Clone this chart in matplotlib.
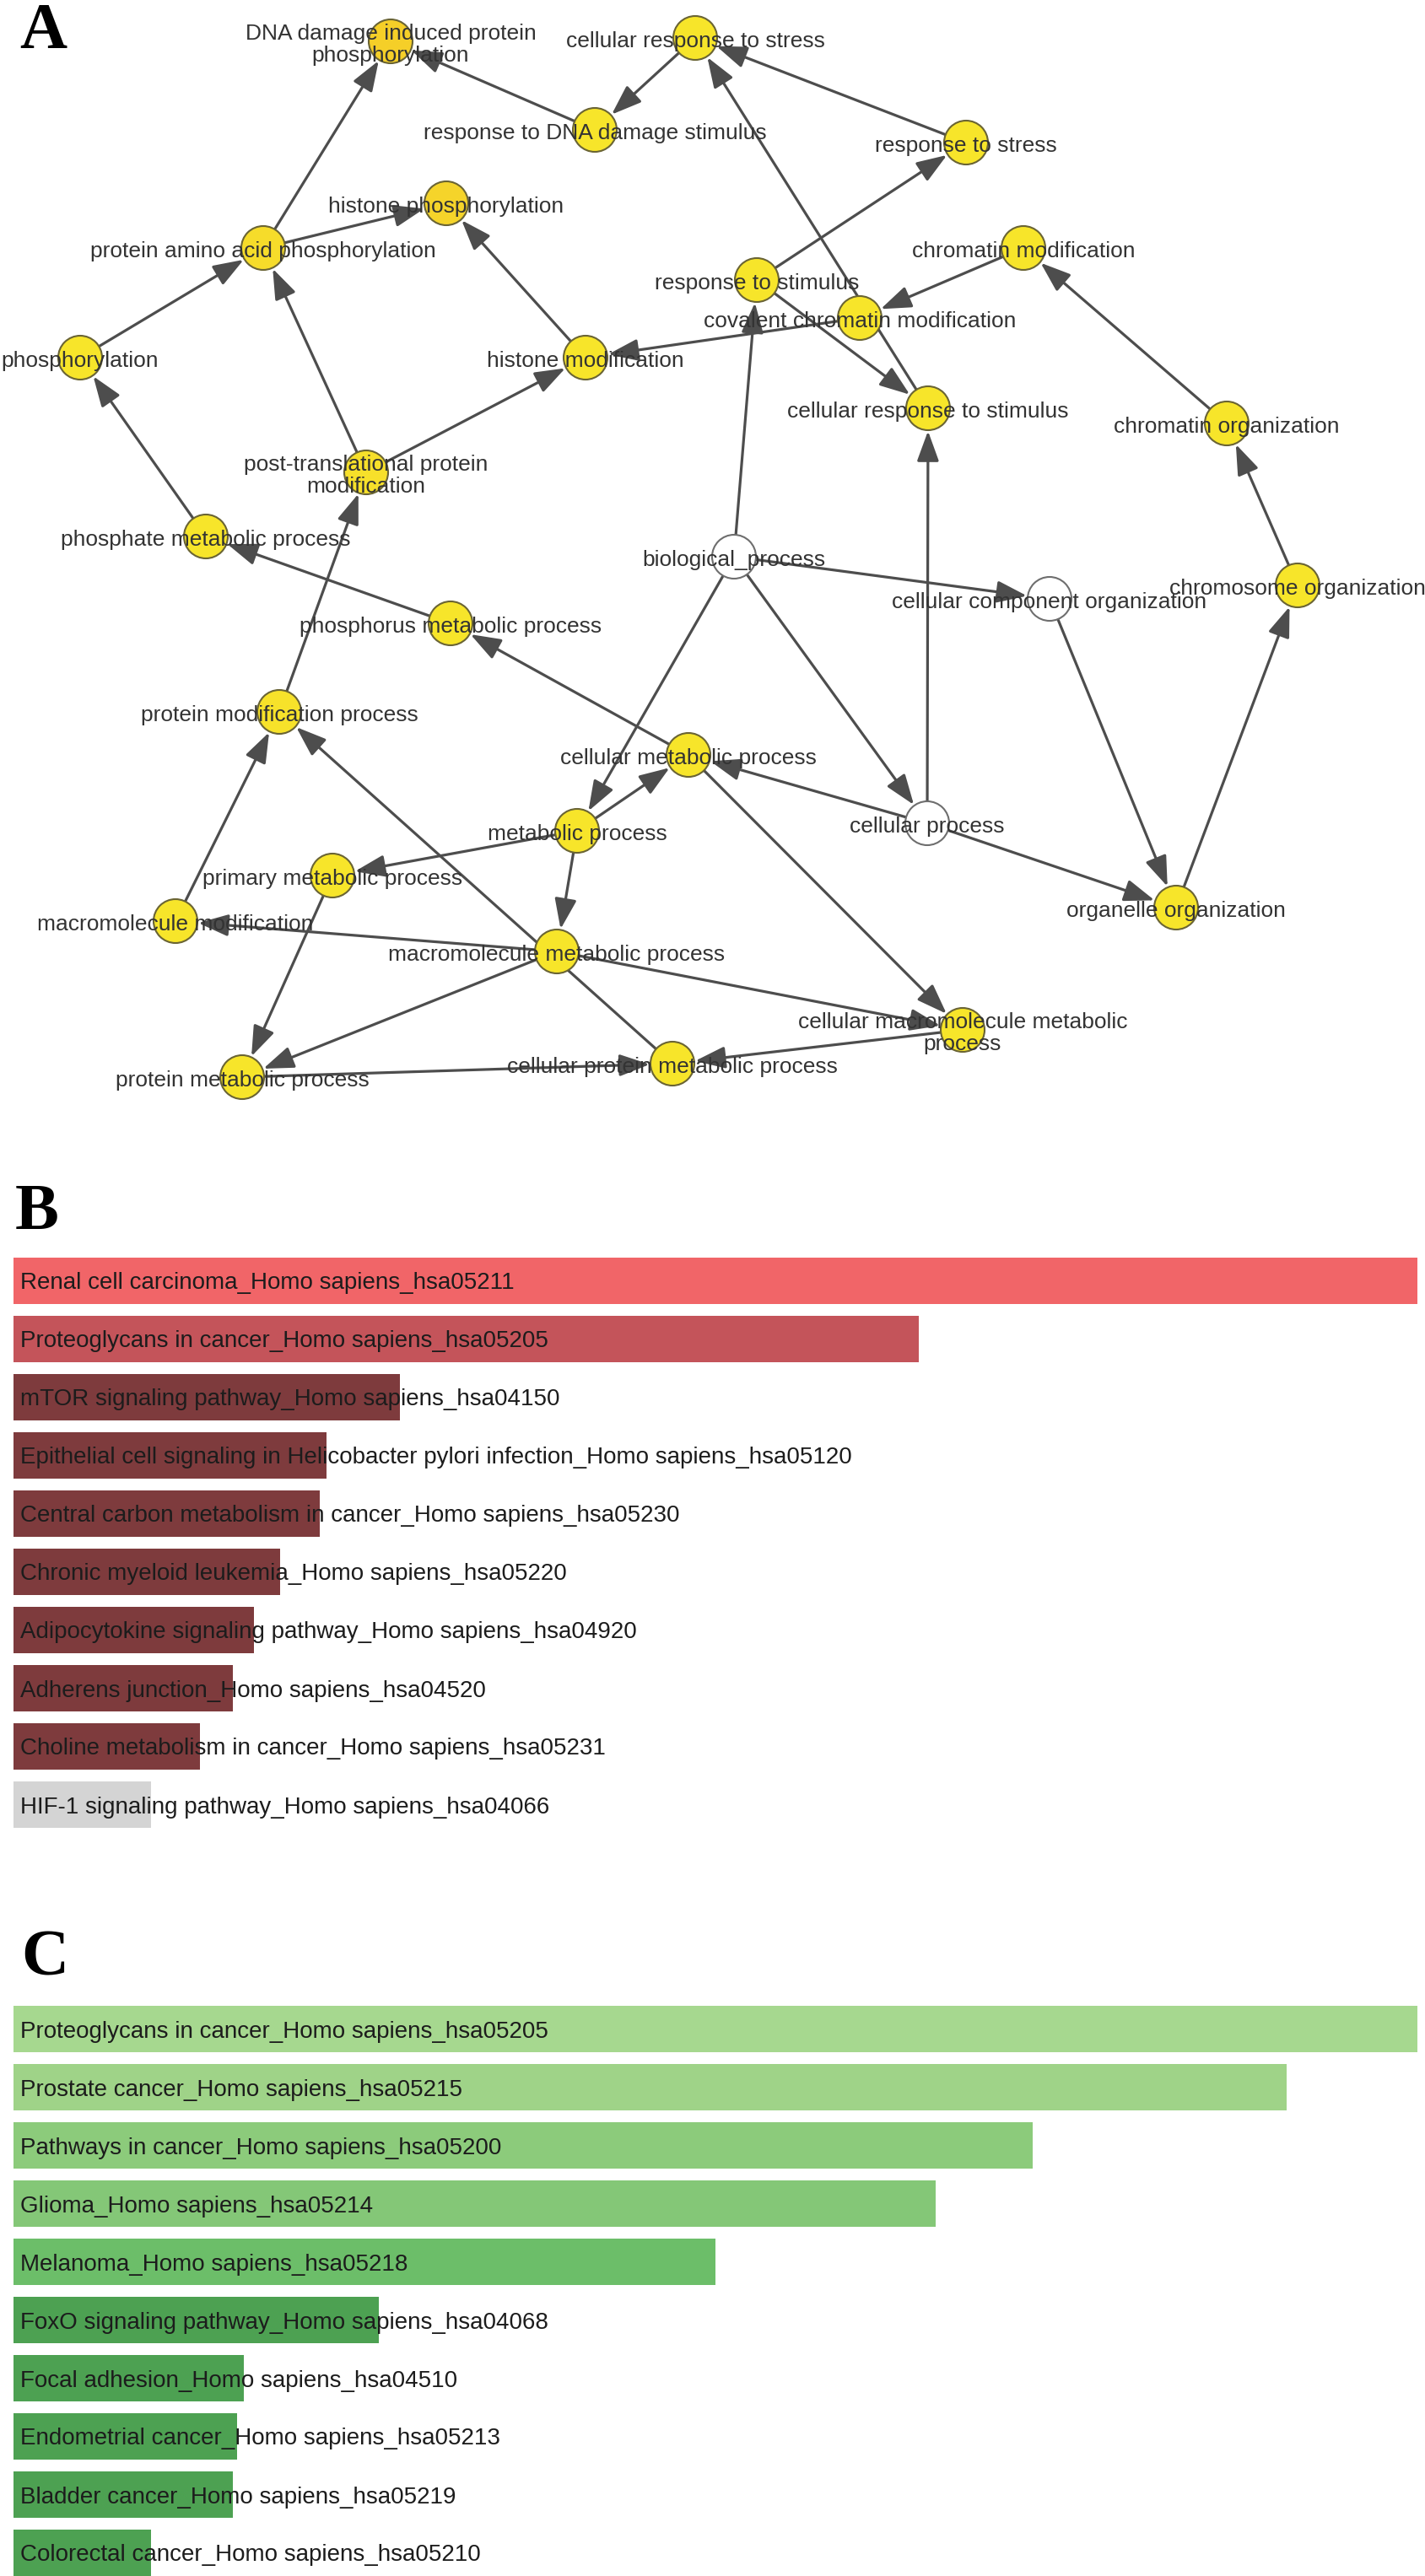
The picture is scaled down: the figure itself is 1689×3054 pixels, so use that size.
import numpy as np
import matplotlib
matplotlib.use('Agg')
import matplotlib.pyplot as plt
from matplotlib.patches import Circle, FancyArrowPatch

W, H = 1690, 3054

# ---------------- panel A: GO network (BiNGO style) ----------------
node_names = [
    'DNA damage induced protein\nphosphorylation',
    'cellular response to stress',
    'response to DNA damage stimulus',
    'response to stress',
    'histone phosphorylation',
    'protein amino acid phosphorylation',
    'chromatin modification',
    'response to stimulus',
    'covalent chromatin modification',
    'phosphorylation',
    'histone modification',
    'cellular response to stimulus',
    'chromatin organization',
    'post-translational protein\nmodification',
    'phosphate metabolic process',
    'biological_process',
    'chromosome organization',
    'cellular component organization',
    'phosphorus metabolic process',
    'protein modification process',
    'cellular metabolic process',
    'cellular process',
    'metabolic process',
    'primary metabolic process',
    'organelle organization',
    'macromolecule modification',
    'macromolecule metabolic process',
    'cellular macromolecule metabolic\nprocess',
    'cellular protein metabolic process',
    'protein metabolic process',
]

# layout of the network (pixel coordinates of the picture)
layout_x = [463, 824, 705, 1145, 529, 312, 1213, 897, 1019, 95, 694, 1100, 1454, 434, 244,
            870, 1538, 1244, 534, 331, 816, 1099, 684, 394, 1394, 208, 660, 1141, 797, 287]
layout_y = [49, 45, 154, 169, 241, 294, 294, 332, 377, 424, 424, 484, 502, 560, 636,
            660, 694, 710, 739, 844, 895, 976, 985, 1038, 1076, 1092, 1128, 1221, 1261, 1277]

# node colour: significance (orange = most significant, white = not significant)
node_fill = ['#F5CF28', '#F7E52A', '#F7E52A', '#F7E52A', '#F5D42A', '#F6DC2A', '#F7E52A',
             '#F7E52A', '#F7E52A', '#F7E52A', '#F7E52A', '#F7E52A', '#F7E52A', '#F7E02A',
             '#F7E52A', '#FFFFFF', '#F7E52A', '#FFFFFF', '#F7E52A', '#F7E22A', '#F7E52A',
             '#FFFFFF', '#F7E52A', '#F7E52A', '#F7E52A', '#F7E52A', '#F7E52A', '#F7E52A',
             '#F7E52A', '#F7E52A']

edges = [
    ('protein amino acid phosphorylation', 'DNA damage induced protein\nphosphorylation'),
    ('response to DNA damage stimulus', 'DNA damage induced protein\nphosphorylation'),
    ('cellular response to stress', 'response to DNA damage stimulus'),
    ('response to stress', 'cellular response to stress'),
    ('cellular response to stimulus', 'cellular response to stress'),
    ('response to stimulus', 'response to stress'),
    ('response to stimulus', 'cellular response to stimulus'),
    ('chromatin modification', 'covalent chromatin modification'),
    ('covalent chromatin modification', 'histone modification'),
    ('chromatin organization', 'chromatin modification'),
    ('chromosome organization', 'chromatin organization'),
    ('organelle organization', 'chromosome organization'),
    ('cellular component organization', 'organelle organization'),
    ('cellular process', 'organelle organization'),
    ('biological_process', 'cellular component organization'),
    ('biological_process', 'cellular process'),
    ('biological_process', 'response to stimulus'),
    ('biological_process', 'metabolic process'),
    ('cellular process', 'cellular response to stimulus'),
    ('cellular process', 'cellular metabolic process'),
    ('metabolic process', 'cellular metabolic process'),
    ('metabolic process', 'primary metabolic process'),
    ('metabolic process', 'macromolecule metabolic process'),
    ('cellular metabolic process', 'phosphorus metabolic process'),
    ('cellular metabolic process', 'cellular macromolecule metabolic\nprocess'),
    ('phosphorus metabolic process', 'phosphate metabolic process'),
    ('phosphate metabolic process', 'phosphorylation'),
    ('phosphorylation', 'protein amino acid phosphorylation'),
    ('post-translational protein\nmodification', 'protein amino acid phosphorylation'),
    ('post-translational protein\nmodification', 'histone modification'),
    ('protein amino acid phosphorylation', 'histone phosphorylation'),
    ('histone modification', 'histone phosphorylation'),
    ('protein modification process', 'post-translational protein\nmodification'),
    ('macromolecule modification', 'protein modification process'),
    ('macromolecule metabolic process', 'macromolecule modification'),
    ('cellular protein metabolic process', 'protein modification process'),
    ('macromolecule metabolic process', 'protein metabolic process'),
    ('primary metabolic process', 'protein metabolic process'),
    ('macromolecule metabolic process', 'cellular macromolecule metabolic\nprocess'),
    ('cellular macromolecule metabolic\nprocess', 'cellular protein metabolic process'),
    ('protein metabolic process', 'cellular protein metabolic process'),
]

# ---------------- panel B: KEGG pathways ----------------
kegg_b_terms = [
    'Renal cell carcinoma_Homo sapiens_hsa05211',
    'Proteoglycans in cancer_Homo sapiens_hsa05205',
    'mTOR signaling pathway_Homo sapiens_hsa04150',
    'Epithelial cell signaling in Helicobacter pylori infection_Homo sapiens_hsa05120',
    'Central carbon metabolism in cancer_Homo sapiens_hsa05230',
    'Chronic myeloid leukemia_Homo sapiens_hsa05220',
    'Adipocytokine signaling pathway_Homo sapiens_hsa04920',
    'Adherens junction_Homo sapiens_hsa04520',
    'Choline metabolism in cancer_Homo sapiens_hsa05231',
    'HIF-1 signaling pathway_Homo sapiens_hsa04066',
]
kegg_b_scores = [100.0, 64.5, 27.5, 22.3, 21.8, 19.0, 17.1, 15.6, 13.3, 9.8]
kegg_b_colors = ['#F16568', '#C4545A'] + ['#7E3B3D'] * 7 + ['#D4D4D4']

# ---------------- panel C: KEGG pathways ----------------
kegg_c_terms = [
    'Proteoglycans in cancer_Homo sapiens_hsa05205',
    'Prostate cancer_Homo sapiens_hsa05215',
    'Pathways in cancer_Homo sapiens_hsa05200',
    'Glioma_Homo sapiens_hsa05214',
    'Melanoma_Homo sapiens_hsa05218',
    'FoxO signaling pathway_Homo sapiens_hsa04068',
    'Focal adhesion_Homo sapiens_hsa04510',
    'Endometrial cancer_Homo sapiens_hsa05213',
    'Bladder cancer_Homo sapiens_hsa05219',
    'Colorectal cancer_Homo sapiens_hsa05210',
]
kegg_c_scores = [100.0, 90.7, 72.6, 65.7, 50.0, 26.0, 16.4, 15.9, 15.6, 9.8]
kegg_c_colors = ['#A6D88F', '#9FD388', '#8CCB7B', '#84C777', '#6CBE69'] + ['#4DA152'] * 5

plt.rcParams['font.family'] = ['Liberation Sans', 'DejaVu Sans']

fig = plt.figure(figsize=(W / 100, H / 100), dpi=100)

# ---- A ----
AH = 1340
axa = fig.add_axes([0, 1 - AH / H, 1, AH / H])
axa.set_xlim(0, W)
axa.set_ylim(AH, 0)
axa.axis('off')

R = 26
pos = {n: np.array([x, y], dtype=float) for n, x, y in zip(node_names, layout_x, layout_y)}

for s, t in edges:
    p0, p1 = pos[s], pos[t]
    u = (p1 - p0) / np.hypot(*(p1 - p0))
    a = p0 + u * R
    b = p1 - u * (R + 1)
    arr = FancyArrowPatch(a, b, arrowstyle='-|>,head_length=1.1,head_width=0.4',
                          mutation_scale=20, lw=2.3, color='#4d4d4d',
                          shrinkA=0, shrinkB=0, zorder=1)
    axa.add_patch(arr)

for n, fc in zip(node_names, node_fill):
    ec = '#6e6e6e' if fc == '#FFFFFF' else '#6a6434'
    axa.add_patch(Circle(pos[n], R, facecolor=fc, edgecolor=ec, lw=1.5, zorder=2))
    axa.text(pos[n][0], pos[n][1] + 4, n, ha='center', va='center', fontsize=19,
             color='#333333', linespacing=1.12, zorder=3)


# ---- B and C ----
def kegg_panel(top_px, terms, scores, colors):
    ax = fig.add_axes([16 / W, 1 - (top_px + 690) / H, 1664 / W, 690 / H])
    ypos = np.arange(len(terms))
    ax.barh(ypos, scores, height=55 / 69, color=colors)
    ax.set_ylim(len(terms) - 0.5, -0.5)
    ax.set_xlim(0, max(scores))
    ax.axis('off')
    for i, term in enumerate(terms):
        ax.annotate(term, xy=(0, i), xytext=(8, -3), textcoords='offset pixels',
                    ha='left', va='center', fontsize=20, color='#1c1c1c')
    return ax


kegg_panel(1484, kegg_b_terms, kegg_b_scores, kegg_b_colors)
kegg_panel(2371, kegg_c_terms, kegg_c_scores, kegg_c_colors)

# panel letters
for letter, x, base in [('A', 23, 57), ('B', 18, 1457), ('C', 25, 2341)]:
    fig.text(x / W, 1 - base / H, letter, fontsize=56, fontweight='bold',
             family=['Liberation Serif', 'DejaVu Serif'], ha='left', va='baseline')

fig.savefig('out.png', dpi=100)
